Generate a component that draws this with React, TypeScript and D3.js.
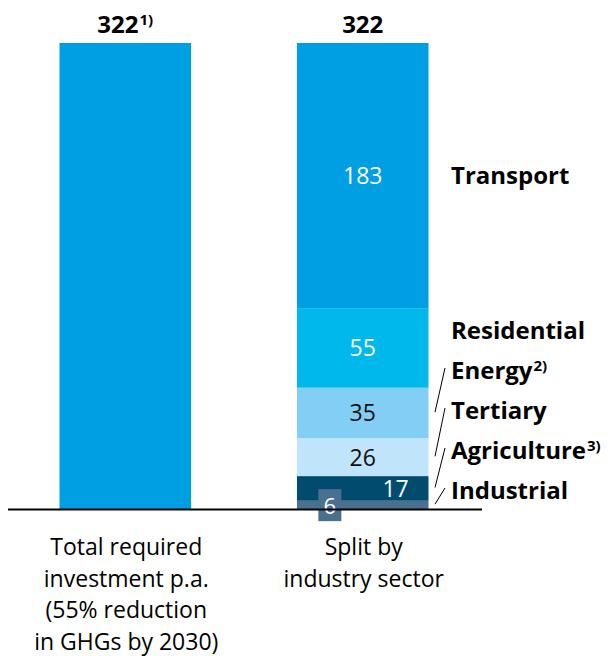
import React, { useEffect, useRef } from 'react';
import * as d3 from 'd3';

const categoryLines: string[][] = [
  ['Total required', 'investment p.a.', '(55% reduction', 'in GHGs by 2030)'],
  ['Split by', 'industry sector'],
];
const totals = [322, 322];
const totalNotes = ['1)', ''];

const sectors = ['Transport', 'Residential', 'Energy', 'Tertiary', 'Agriculture', 'Industrial'];
const sectorValues = [183, 55, 35, 26, 17, 6];
const sectorNotes = ['', '', '2)', '', '3)', ''];
const sectorColors = ['#009FE3', '#00B8EB', '#83CEF5', '#C0E5FA', '#004B6E', '#4A7090'];
const sectorTextColors = ['#fff', '#fff', '#111', '#111', '#fff', '#fff'];
const totalColor = '#009FE3';

const App: React.FC = () => {
  const svgRef = useRef<SVGSVGElement | null>(null);

  useEffect(() => {
    const width = 611;
    const height = 656;
    const font = '"Open Sans", "Noto Sans", sans-serif';
    const baseY = 509.5;

    const svg = d3.select(svgRef.current)
      .attr('width', width)
      .attr('height', height);
    svg.selectAll('*').remove();

    const x = d3.scaleBand<number>()
      .domain([0, 1])
      .range([59.5, 428.5])
      .paddingInner(0.446)
      .paddingOuter(0);

    const y = d3.scaleLinear()
      .domain([0, d3.max(totals) as number])
      .range([baseY, 43]);

    // left total bar
    svg.append('rect')
      .attr('x', x(0)!)
      .attr('y', y(totals[0]))
      .attr('width', x.bandwidth())
      .attr('height', y(0) - y(totals[0]))
      .attr('fill', totalColor);

    // stacked segments, top (Transport) to bottom (Industrial)
    const segs = sectors.map((s, i) => {
      const below = d3.sum(sectorValues.slice(i + 1));
      return { name: s, value: sectorValues[i], y0: below, y1: below + sectorValues[i], i };
    });

    const bx = x(1)!;
    const bw = x.bandwidth();

    svg.selectAll('.seg')
      .data(segs)
      .enter()
      .append('rect')
      .attr('class', 'seg')
      .attr('x', bx)
      .attr('y', d => y(d.y1))
      .attr('width', bw)
      .attr('height', d => y(d.y0) - y(d.y1))
      .attr('fill', d => sectorColors[d.i]);

    // value labels in segments
    segs.forEach(d => {
      const top = y(d.y1);
      const bot = y(d.y0);
      const h = bot - top;
      const cy = (top + bot) / 2;
      if (h < 12) {
        // too thin: label sits in its own box across the baseline
        const cx = bx + bw * 0.25;
        svg.append('rect')
          .attr('x', cx - 11.5)
          .attr('y', cy - 16)
          .attr('width', 23)
          .attr('height', 32)
          .attr('fill', sectorColors[d.i]);
        svg.append('text')
          .attr('x', cx)
          .attr('y', cy + 1)
          .attr('dy', '0.36em')
          .attr('text-anchor', 'middle')
          .attr('font-family', font)
          .attr('font-size', 22)
          .attr('fill', sectorTextColors[d.i])
          .text(d.value);
      } else {
        const cx = h < 30 ? bx + bw * 0.75 : bx + bw / 2;
        svg.append('text')
          .attr('x', cx)
          .attr('y', cy)
          .attr('dy', '0.36em')
          .attr('text-anchor', 'middle')
          .attr('font-family', font)
          .attr('font-size', 23)
          .attr('fill', sectorTextColors[d.i])
          .text(d.value);
      }
    });

    // totals on top
    totals.forEach((t, i) => {
      const txt = svg.append('text')
        .attr('x', x(i)! + bw / 2)
        .attr('y', y(t) - 10.5)
        .attr('text-anchor', 'middle')
        .attr('font-family', font)
        .attr('font-size', 24)
        .attr('font-weight', 'bold')
        .attr('fill', '#000');
      txt.append('tspan').text(t);
      if (totalNotes[i]) {
        txt.append('tspan')
          .attr('font-size', 15)
          .attr('dx', 1)
          .attr('dy', -8)
          .text(totalNotes[i]);
      }
    });

    // baseline
    svg.append('line')
      .attr('x1', 8)
      .attr('x2', 482)
      .attr('y1', baseY)
      .attr('y2', baseY)
      .attr('stroke', '#000')
      .attr('stroke-width', 2);

    // sector legend
    const lx = 451;
    const n = sectors.length;
    segs.forEach(d => {
      const top = y(d.y1);
      const bot = y(d.y0);
      const cy = (top + bot) / 2;
      const ly = d.i === 0 ? cy : baseY - 19.5 - (n - 1 - d.i) * 40;
      const txt = svg.append('text')
        .attr('x', lx)
        .attr('y', ly)
        .attr('dy', '0.36em')
        .attr('font-family', font)
        .attr('font-size', 24)
        .attr('font-weight', 'bold')
        .attr('fill', '#000');
      txt.append('tspan').text(d.name);
      if (sectorNotes[d.i]) {
        txt.append('tspan')
          .attr('font-size', 15)
          .attr('dx', 1)
          .attr('dy', -8)
          .text(sectorNotes[d.i]);
      }
      if (ly < top || ly > bot) {
        svg.append('line')
          .attr('x1', lx - 6)
          .attr('y1', ly - 2)
          .attr('x2', lx - 16)
          .attr('y2', cy - 1)
          .attr('stroke', '#000')
          .attr('stroke-width', 1);
      }
    });

    // category labels
    categoryLines.forEach((lines, i) => {
      const txt = svg.append('text')
        .attr('text-anchor', 'middle')
        .attr('font-family', font)
        .attr('font-size', 23)
        .attr('fill', '#000');
      lines.forEach((l, j) => {
        txt.append('tspan')
          .attr('x', x(i)! + bw / 2 + 1)
          .attr('y', 555 + j * 31.5)
          .text(l);
      });
    });
  }, []);

  return <svg ref={svgRef} style={{ position: 'absolute', left: 0, top: 0 }}></svg>;
};

export default App;
